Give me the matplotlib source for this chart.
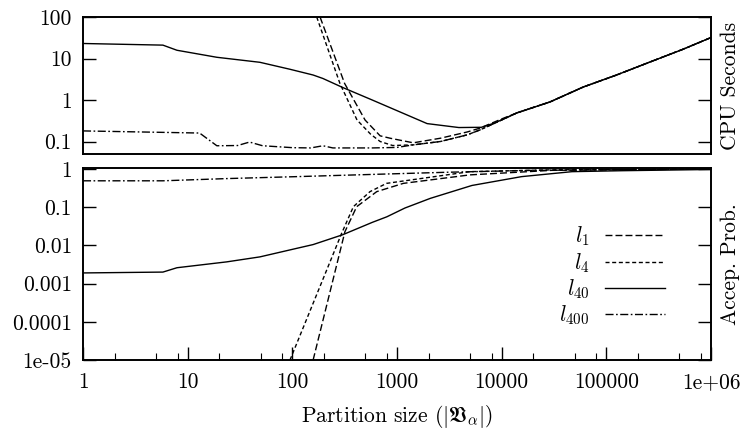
import numpy as np
import matplotlib
matplotlib.use("Agg")
import matplotlib.pyplot as plt
from matplotlib.ticker import FixedLocator, FixedFormatter, NullFormatter, LogLocator

plt.rcParams['font.family'] = ['cmr10', 'DejaVu Serif']
plt.rcParams['mathtext.fontset'] = 'cm'
plt.rcParams['axes.formatter.use_mathtext'] = True
FS = 15.5
plt.rcParams['font.size'] = FS

# ---------------- data ----------------
series_labels = [r'$l_1$', r'$l_4$', r'$l_{40}$', r'$l_{400}$']

# CPU seconds (top panel)
cpu_l1_x = [184, 316, 495, 690, 860, 1430, 2600, 4700, 6200, 10000, 14000, 29000, 60000, 125000, 260000, 540000, 1e6]
cpu_l1_y = [100, 2.5, 0.33, 0.137, 0.12, 0.093, 0.12, 0.17, 0.21, 0.35, 0.49, 0.9, 2.05, 4.0, 8.2, 16.7, 32]
cpu_l4_x = [171, 285, 415, 560, 690, 910, 1430, 2600, 4700, 6200, 10000, 14000, 29000, 60000, 125000, 260000, 540000, 1e6]
cpu_l4_y = [100, 2.5, 0.33, 0.15, 0.10, 0.08, 0.083, 0.10, 0.145, 0.19, 0.33, 0.49, 0.9, 2.05, 4.0, 8.2, 16.7, 32]
cpu_l40_x = [1, 5.8, 7.9, 19, 49, 95, 158, 196, 303, 580, 1940, 3900, 6400, 8600, 14000, 29000, 60000, 125000, 260000, 540000, 1e6]
cpu_l40_y = [23, 21, 15.8, 10.7, 8.1, 5.5, 4.0, 3.3, 2.0, 1.0, 0.27, 0.217, 0.22, 0.28, 0.49, 0.9, 2.05, 4.0, 8.2, 16.7, 32]
cpu_l400_x = [1, 13, 19, 30, 39, 52, 101, 150, 196, 244, 580, 1000, 1430, 2600, 4700, 6200, 10000, 14000, 29000, 60000, 125000, 260000, 540000, 1e6]
cpu_l400_y = [0.18, 0.16, 0.079, 0.08, 0.097, 0.079, 0.071, 0.07, 0.079, 0.07, 0.07, 0.072, 0.083, 0.10, 0.145, 0.19, 0.33, 0.49, 0.9, 2.05, 4.0, 8.2, 16.7, 32]

# Acceptance probability (bottom panel)
acc_l1_x = [158, 318, 412, 640, 1150, 4960, 30000, 1e6]
acc_l1_y = [1e-5, 0.0228, 0.103, 0.255, 0.42, 0.70, 0.92, 1.0]
acc_l4_x = [95, 296, 383, 552, 795, 4960, 30000, 1e6]
acc_l4_y = [1e-5, 0.0207, 0.103, 0.255, 0.42, 0.85, 0.95, 1.0]
acc_l40_x = [1, 5.8, 7.9, 23.6, 49, 113, 158, 303, 580, 800, 1190, 2080, 5200, 15500, 47000, 140000, 1e6]
acc_l40_y = [0.0019, 0.002, 0.0026, 0.0037, 0.005, 0.0085, 0.0105, 0.019, 0.04, 0.056, 0.095, 0.17, 0.37, 0.63, 0.85, 0.9, 0.97]
acc_l400_x = [1, 5.8, 23.6, 110, 580, 3000, 20000, 1e6]
acc_l400_y = [0.49, 0.49, 0.56, 0.63, 0.72, 0.82, 0.92, 1.0]

x_ticks = [1, 10, 100, 1000, 10000, 100000, 1e6]
x_ticklabels = ['1', '10', '100', '1000', '10000', '100000', '1e+06']
cpu_ticks = [0.1, 1, 10, 100]
cpu_ticklabels = ['0.1', '1', '10', '100']
acc_ticks = [1e-5, 1e-4, 1e-3, 1e-2, 0.1, 1]
acc_ticklabels = ['1e-05', '0.0001', '0.001', '0.01', '0.1', '1']

# ---------------- styles ----------------
lw = 1.0
styles = [
    dict(color='black', lw=lw, dashes=(5.0, 2.2)),
    dict(color='black', lw=lw, dashes=(2.9, 1.9)),
    dict(color='black', lw=lw, linestyle='-'),
    dict(color='black', lw=lw, dashes=(5.8, 1.8, 1.2, 1.8)),
]

W, H = 744, 432
fig = plt.figure(figsize=(W / 100, H / 100), dpi=100)

def fx(px):
    return px / W

def fy(py):
    return 1 - py / H

L, R = 83, 711
ax1 = fig.add_axes([fx(L), fy(154), fx(R - L), fy(17) - fy(154)])
ax2 = fig.add_axes([fx(L), fy(360), fx(R - L), fy(168) - fy(360)])

cpu_data = [(cpu_l1_x, cpu_l1_y), (cpu_l4_x, cpu_l4_y), (cpu_l40_x, cpu_l40_y), (cpu_l400_x, cpu_l400_y)]
acc_data = [(acc_l1_x, acc_l1_y), (acc_l4_x, acc_l4_y), (acc_l40_x, acc_l40_y), (acc_l400_x, acc_l400_y)]

for (xs, ys), st in zip(cpu_data, styles):
    ax1.plot(xs, ys, **st)
handles = []
for (xs, ys), st, lab in zip(acc_data, styles, series_labels):
    h, = ax2.plot(xs, ys, label=lab, **st)
    handles.append(h)

for ax in (ax1, ax2):
    ax.set_xscale('log')
    ax.set_yscale('log')
    ax.set_xlim(1, 1e6)
    for sp in ax.spines.values():
        sp.set_linewidth(1.4)

ax1.set_ylim(0.05, 100)
ax2.set_ylim(1e-5, 1.06)

# x ticks
ax2.xaxis.set_major_locator(FixedLocator(x_ticks))
ax2.xaxis.set_major_formatter(FixedFormatter(x_ticklabels))
ax2.xaxis.set_minor_locator(LogLocator(base=10, subs=(2, 5, 8)))
ax2.xaxis.set_minor_formatter(NullFormatter())
ax1.xaxis.set_major_locator(FixedLocator([]))
ax1.xaxis.set_minor_locator(FixedLocator([]))

# y ticks
ax1.yaxis.set_major_locator(FixedLocator(cpu_ticks))
ax1.yaxis.set_major_formatter(FixedFormatter(cpu_ticklabels))
ax1.yaxis.set_minor_locator(LogLocator(base=10, subs=tuple(range(2, 10))))
ax1.yaxis.set_minor_formatter(NullFormatter())
ax2.yaxis.set_major_locator(FixedLocator(acc_ticks))
ax2.yaxis.set_major_formatter(FixedFormatter(acc_ticklabels))
ax2.yaxis.set_minor_locator(LogLocator(base=10, subs=(2, 5, 8)))
ax2.yaxis.set_minor_formatter(NullFormatter())

for ax in (ax1, ax2):
    ax.tick_params(which='major', direction='in', length=9.5, width=1.0, left=True, right=True, top=False, bottom=True, labelsize=FS, pad=8)
    ax.tick_params(which='minor', direction='in', length=5, width=0.8, left=True, right=True, top=False, bottom=True)
ax2.tick_params(axis='x', which='major', pad=9)

ax1.yaxis.set_label_position('right')
ax2.yaxis.set_label_position('right')
ax1.set_ylabel('CPU Seconds', labelpad=7)
ax2.set_ylabel('Accep. Prob.', labelpad=7)
ax2.set_xlabel(r'Partition size ($|\mathfrak{V}_\alpha|$)', labelpad=8)

leg = ax2.legend(handles=handles, loc='center right', bbox_to_anchor=(fx(665), fy(276)),
                 bbox_transform=fig.transFigure, frameon=False, markerfirst=False,
                 handlelength=2.8, handletextpad=0.7, labelspacing=0.12,
                 borderpad=0, borderaxespad=0, fontsize=FS)

fig.savefig('out.png', dpi=100)
